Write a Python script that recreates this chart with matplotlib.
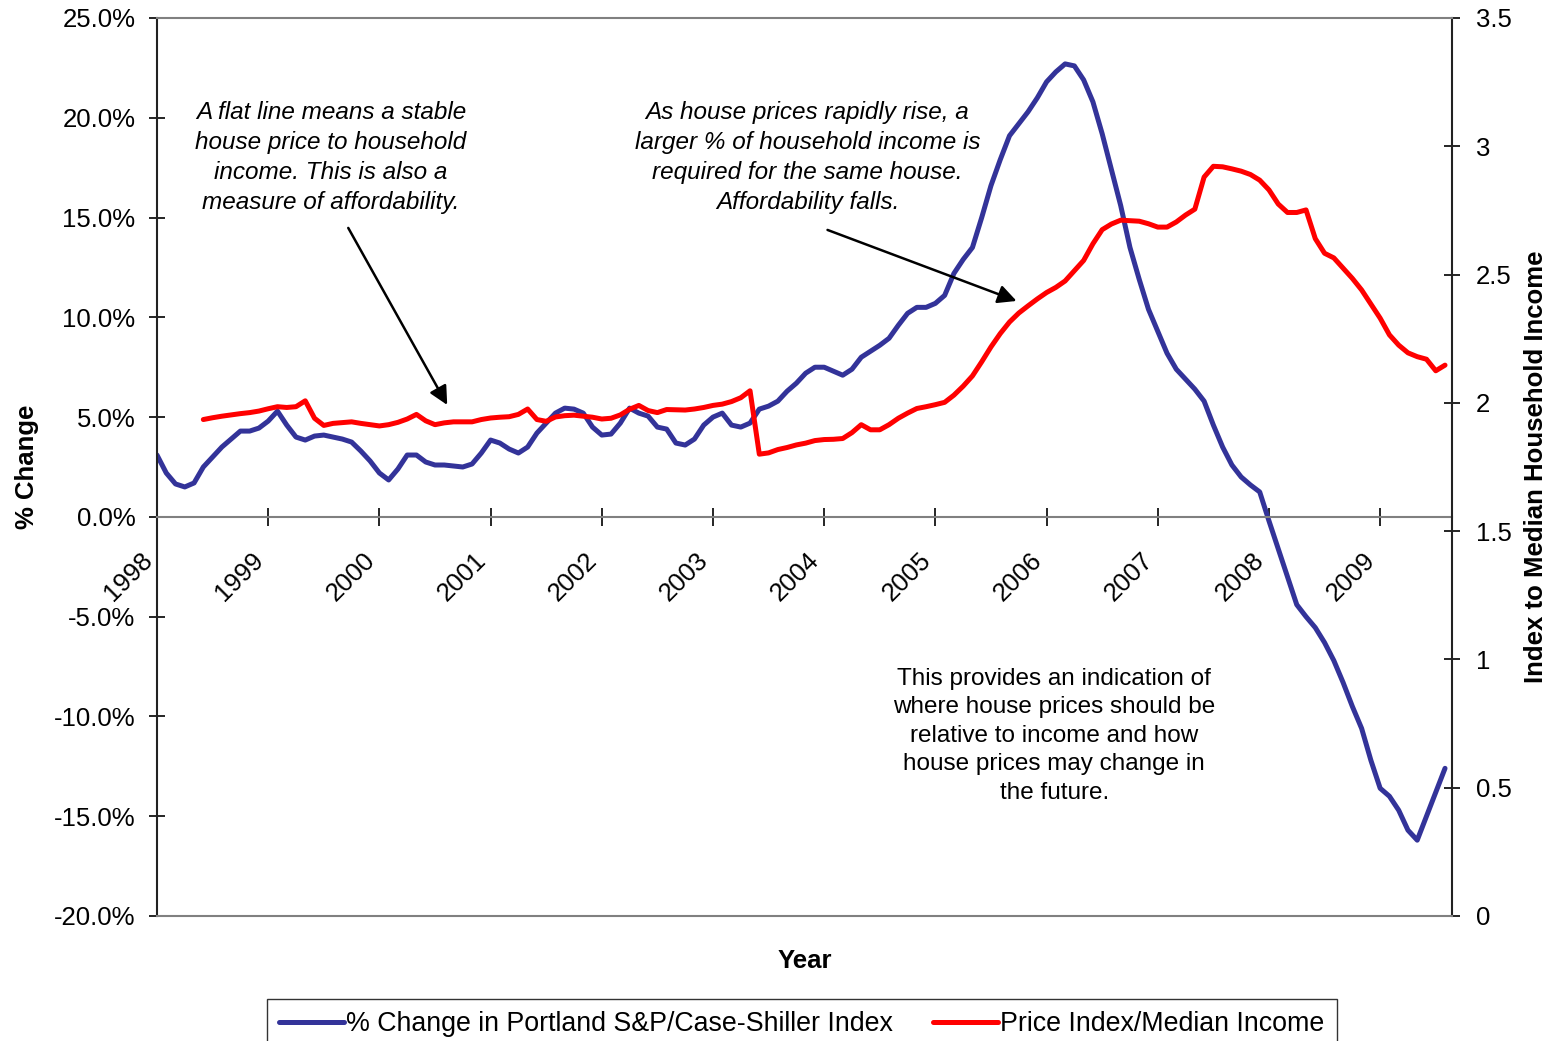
import numpy as np
import matplotlib
matplotlib.use('Agg')
from matplotlib import pyplot as plt
from matplotlib.ticker import FuncFormatter

plt.rcParams['font.family'] = ['Liberation Sans', 'DejaVu Sans']

# monthly, Jan 1998 .. Aug 2009
years = list(range(1998, 2010))
pct_change = [3.1, 2.2, 1.65, 1.5, 1.7, 2.5, 3.0, 3.5, 3.9, 4.3,
              4.3, 4.45, 4.8, 5.3, 4.6, 4.0, 3.85, 4.05, 4.1, 4.0,
              3.9, 3.75, 3.3, 2.8, 2.2, 1.85, 2.4, 3.1, 3.1, 2.75,
              2.6, 2.6, 2.55, 2.5, 2.65, 3.2, 3.85, 3.7, 3.4, 3.2,
              3.5, 4.2, 4.7, 5.2, 5.45, 5.4, 5.2, 4.5, 4.1, 4.15,
              4.7, 5.45, 5.2, 5.05, 4.5, 4.4, 3.7, 3.6, 3.9, 4.6,
              5.0, 5.2, 4.6, 4.5, 4.7, 5.4, 5.55, 5.8, 6.3, 6.7,
              7.2, 7.5, 7.5, 7.3, 7.1, 7.4, 8.0, 8.3, 8.6, 8.95,
              9.6, 10.2, 10.5, 10.5, 10.7, 11.1, 12.2, 12.9, 13.5, 15.0,
              16.6, 17.9, 19.1, 19.7, 20.3, 21.0, 21.8, 22.3, 22.7, 22.6,
              21.9, 20.8, 19.2, 17.4, 15.6, 13.5, 11.9, 10.4, 9.3, 8.2,
              7.4, 6.9, 6.4, 5.8, 4.6, 3.5, 2.6, 2.0, 1.6, 1.25,
              -0.2, -1.6, -3.0, -4.4, -5.0, -5.55, -6.3, -7.2, -8.3, -9.5,
              -10.6, -12.2, -13.6, -14.0, -14.7, -15.7, -16.2, -15.0, -13.8, -12.6]

# starts Jun 1998
ratio_start = 5
price_to_income = [1.935, 1.942, 1.948, 1.953, 1.958, 1.962, 1.968, 1.977, 1.985, 1.982,
                   1.985, 2.008, 1.94, 1.912, 1.92, 1.923, 1.926, 1.92, 1.915, 1.91,
                   1.915, 1.924, 1.937, 1.955, 1.93, 1.915, 1.922, 1.926, 1.926, 1.926,
                   1.935, 1.941, 1.944, 1.946, 1.955, 1.976, 1.935, 1.928, 1.945, 1.95,
                   1.952, 1.948, 1.944, 1.937, 1.94, 1.953, 1.975, 1.99, 1.97, 1.962,
                   1.974, 1.973, 1.972, 1.976, 1.982, 1.99, 1.995, 2.005, 2.02, 2.047,
                   1.80, 1.805, 1.818, 1.826, 1.836, 1.843, 1.853, 1.857, 1.858, 1.861,
                   1.884, 1.915, 1.895, 1.895, 1.915, 1.94, 1.96, 1.978, 1.985, 1.993,
                   2.002, 2.03, 2.065, 2.105, 2.16, 2.218, 2.27, 2.315, 2.35, 2.378,
                   2.405, 2.43, 2.45, 2.475, 2.515, 2.555, 2.62, 2.675, 2.697, 2.712,
                   2.71, 2.708, 2.698, 2.685, 2.685, 2.705, 2.732, 2.755, 2.88, 2.922,
                   2.92, 2.912, 2.903, 2.89, 2.868, 2.83, 2.775, 2.742, 2.742, 2.752,
                   2.64, 2.583, 2.565, 2.525, 2.485, 2.44, 2.385, 2.33, 2.265, 2.225,
                   2.195, 2.18, 2.17, 2.125, 2.147]

x_blue = 1998 + np.arange(len(pct_change)) / 12.0
x_red = 1998 + (ratio_start + np.arange(len(price_to_income))) / 12.0

BLUE = '#333399'
RED = '#ff0000'
GRAY = '#808080'
FS = 18.5

fig = plt.figure(figsize=(15.55, 10.41), dpi=100)
ax = fig.add_axes([0.10096, 0.12008, 0.8328, 0.86263])
ax2 = ax.twinx()

l1, = ax.plot(x_blue, pct_change, color=BLUE, lw=3.6, solid_joinstyle='round',
              solid_capstyle='round', label='% Change in Portland S&P/Case-Shiller Index')
l2, = ax2.plot(x_red, price_to_income, color=RED, lw=3.6, solid_joinstyle='round',
               solid_capstyle='round', label='Price Index/Median Income')

ax.set_xlim(1998, 2009.646)
ax.set_ylim(-20, 25)
ax2.set_ylim(0, 3.5)

ax.set_yticks(np.arange(-20, 26, 5))
ax.yaxis.set_major_formatter(FuncFormatter(lambda v, p: '%.1f%%' % v))
ax2.set_yticks(np.arange(0, 3.51, 0.5))
ax2.yaxis.set_major_formatter(FuncFormatter(lambda v, p: '%g' % v))
ax.set_xticks(years)
ax.set_xticklabels([str(y) for y in years])

# spines
ax.spines['bottom'].set_position(('data', 0))
ax.spines['bottom'].set_color(GRAY)
ax.spines['bottom'].set_linewidth(1.5)
ax.spines['top'].set_visible(False)
ax.spines['right'].set_visible(False)
ax.spines['left'].set_color('#222222')
ax.spines['left'].set_linewidth(1.5)
ax2.spines['left'].set_visible(False)
ax2.spines['right'].set_color('#222222')
ax2.spines['right'].set_linewidth(1.5)
for s in ('top', 'bottom'):
    ax2.spines[s].set_color(GRAY)
    ax2.spines[s].set_linewidth(1.5)

ax.tick_params(axis='x', direction='inout', length=13, width=1.2, pad=16,
               labelsize=FS, labelrotation=45)
ax.tick_params(axis='y', direction='inout', length=12, width=1.2, pad=9.5, labelsize=FS)
ax2.tick_params(axis='y', direction='inout', length=12, width=1.2, pad=11, labelsize=FS)
plt.setp(ax.get_xticklabels(), ha='right')

ax.set_ylabel('% Change', fontsize=FS, fontweight='bold', va='center')
ax.yaxis.set_label_coords(-0.1, 0.5)
ax2.set_ylabel('Index to Median Household Income', fontsize=FS, fontweight='bold',
               rotation=90, va='center')
ax2.yaxis.set_label_coords(1.0649, 0.5)
ax.set_xlabel('Year', fontsize=FS, fontweight='bold', va='center')
ax.xaxis.set_label_coords(0.5, -0.05)

# notes
note_kw = dict(fontsize=17.5, ha='center', va='center', linespacing=1.38)
ax.text(1999.565, 18.0, 'A flat line means a stable\nhouse price to household\n'
        'income. This is also a\nmeasure of affordability.', style='italic', **note_kw)
ax.text(2003.85, 18.0, 'As house prices rapidly rise, a\nlarger % of household income is\n'
        'required for the same house.\nAffordability falls.', style='italic', **note_kw)
ax.text(2006.07, -10.97, 'This provides an indication of\nwhere house prices should be\n'
        'relative to income and how\nhouse prices may change in\nthe future.', **note_kw)

arrow_kw = dict(arrowstyle='-|>', color='black', lw=1.8, mutation_scale=28,
                shrinkA=0, shrinkB=0)
ax.annotate('', xy=(2000.61, 5.61), xytext=(1999.72, 14.48), arrowprops=arrow_kw)
ax.annotate('', xy=(2005.73, 10.82), xytext=(2004.03, 14.38), arrowprops=arrow_kw)

leg = fig.legend([l1, l2], [l1.get_label(), l2.get_label()], loc='upper center',
                 bbox_to_anchor=(0.5157, 0.0403), ncol=2, fontsize=19.3, frameon=True,
                 fancybox=False, edgecolor='black', handlelength=2.4, handletextpad=0.1,
                 columnspacing=1.5, borderpad=0.45, borderaxespad=0)
leg.get_frame().set_linewidth(1.0)

fig.savefig('out.png', dpi=100)
